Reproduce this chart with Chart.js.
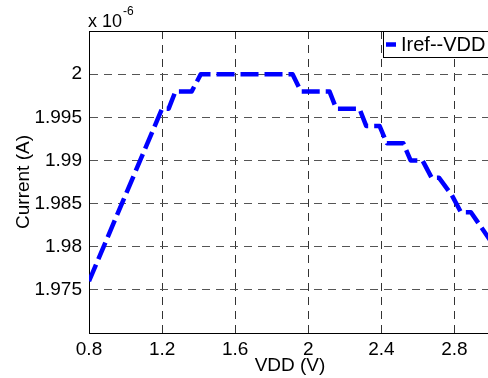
<!DOCTYPE html>
<html>
<head>
<meta charset="utf-8">
<script src="https://cdn.jsdelivr.net/npm/chart.js@4.4.1/dist/chart.umd.min.js"></script>
<style>
  html, body { margin: 0; padding: 0; background: #fff; }
  #frame { width: 488px; height: 378px; overflow: hidden; position: relative; }
  #wrap { width: 500px; height: 378px; position: absolute; left: 0; top: 0; }
</style>
</head>
<body>
<div id="frame"><div id="wrap"><canvas id="myChart"></canvas></div></div>
<script>
// VDD (V) と Iref (x 1e-6 A) の読み取り値
const vdd = [0.8, 1.2, 1.236, 1.273, 1.362, 1.412, 1.914, 1.96, 2.116, 2.153, 2.28, 2.317,
  2.39, 2.43, 2.52, 2.56, 2.625, 2.675, 2.715, 2.785, 2.835, 2.89, 3.0];
const iref = [1.976, 1.996, 1.996, 1.998, 1.998, 2.000, 2.000, 1.998, 1.998, 1.996, 1.996, 1.994,
  1.994, 1.992, 1.992, 1.990, 1.990, 1.988, 1.988, 1.986, 1.984, 1.984, 1.9806];
const seriesLabel = 'Iref--VDD';

const xTicks = [0.8, 1.2, 1.6, 2.0, 2.4, 2.8];
const yTicks = [1.975, 1.98, 1.985, 1.99, 1.995, 2.0];

const FONT = 'Arial, "Liberation Sans", Helvetica, sans-serif';

// 枠線・凡例・指数ラベルを描く
const matlabDecor = {
  id: 'matlabDecor',
  afterDatasetsDraw(chart) {
    const { ctx, chartArea: a } = chart;
    ctx.save();
    ctx.strokeStyle = '#000';
    ctx.lineWidth = 1;
    ctx.beginPath();
    ctx.moveTo(a.left, Math.round(a.top) + 0.5);
    ctx.lineTo(a.right, Math.round(a.top) + 0.5);
    ctx.lineTo(a.right, a.bottom);
    ctx.stroke();

    // 凡例
    const bx = 383.5, by = Math.round(a.top) + 0.5;
    ctx.fillStyle = '#fff';
    ctx.fillRect(bx, by, 130, 26);
    ctx.strokeRect(bx, by, 130, 26);
    ctx.strokeStyle = '#0000ff';
    ctx.lineWidth = 4.5;
    ctx.beginPath();
    ctx.moveTo(386, by + 13);
    ctx.lineTo(396, by + 13);
    ctx.stroke();
    ctx.fillStyle = '#000';
    ctx.font = '20px ' + FONT;
    ctx.textBaseline = 'middle';
    ctx.textAlign = 'left';
    ctx.fillText(chart.data.datasets[0].label, 401, by + 13.5);

    // x 10^-6
    ctx.textBaseline = 'alphabetic';
    ctx.font = '18px ' + FONT;
    ctx.fillText('x 10', 88, 26.5);
    ctx.font = '12px ' + FONT;
    ctx.fillText('-6', 123, 15);
    ctx.restore();
  }
};

new Chart(document.getElementById('myChart'), {
  type: 'line',
  data: {
    datasets: [{
      label: seriesLabel,
      data: vdd.map((v, i) => ({ x: v, y: iref[i] })),
      borderColor: '#0000ff',
      backgroundColor: '#0000ff',
      borderWidth: 4.5,
      borderDash: [18, 6],
      borderCapStyle: 'butt',
      borderJoinStyle: 'round',
      pointRadius: 0,
      tension: 0,
      fill: false
    }]
  },
  options: {
    responsive: true,
    maintainAspectRatio: false,
    animation: false,
    layout: { padding: { top: 31, right: 9, left: 0, bottom: 0 } },
    plugins: {
      legend: { display: false },
      tooltip: { enabled: false }
    },
    scales: {
      x: {
        type: 'linear',
        min: 0.8,
        max: 3.0,
        afterBuildTicks: s => { s.ticks = xTicks.map(v => ({ value: v })); },
        afterFit: s => { s.height = 45; },
        ticks: {
          color: '#000',
          font: { family: FONT, size: 19 },
          padding: 5,
          maxRotation: 0,
          callback: v => String(+(+v).toFixed(1))
        },
        grid: { color: '#333', lineWidth: 1, drawTicks: false },
        border: { display: true, color: '#000', width: 1, dash: [8, 6] },
        title: {
          display: true,
          text: 'VDD (V)',
          color: '#000',
          font: { family: FONT, size: 19 },
          padding: { top: 0, bottom: 1 }
        }
      },
      y: {
        type: 'linear',
        min: 1.970,
        max: 2.005,
        afterBuildTicks: s => { s.ticks = yTicks.map(v => ({ value: v })); },
        afterFit: s => { s.width = 89; },
        ticks: {
          color: '#000',
          font: { family: FONT, size: 19 },
          padding: 7,
          callback: v => String(+(+v).toFixed(3))
        },
        grid: { color: '#555', lineWidth: 1, drawTicks: false },
        border: { display: true, color: '#000', width: 1, dash: [8, 6] },
        title: {
          display: true,
          text: 'Current (A)',
          color: '#000',
          font: { family: FONT, size: 19 },
          padding: { top: 12, bottom: 0 }
        }
      }
    }
  },
  plugins: [matlabDecor]
});
</script>
</body>
</html>
